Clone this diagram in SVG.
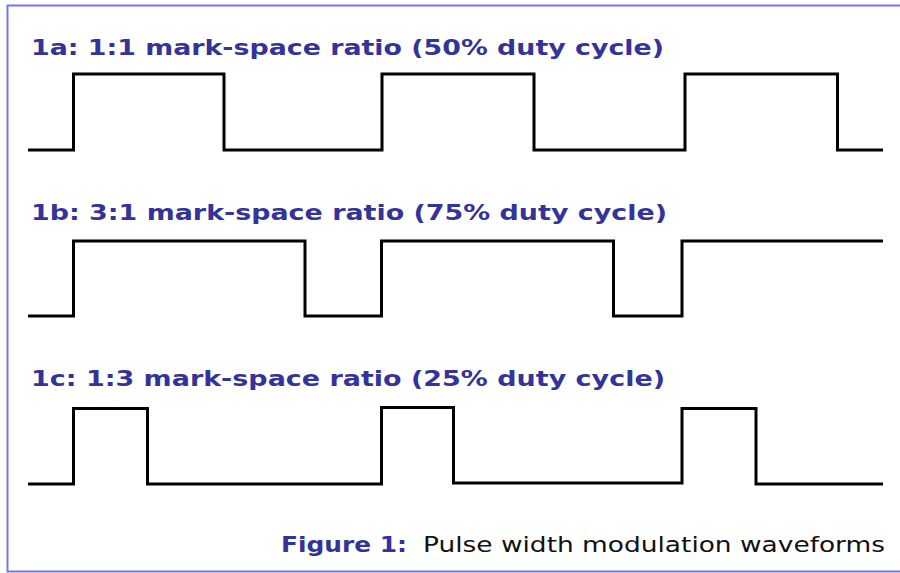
<svg xmlns="http://www.w3.org/2000/svg" width="900" height="573" viewBox="0 0 900 573">
<style>
.bg{fill:#ffffff}
.frame{fill:none;stroke:#7474ee;stroke-width:2}
.wave{fill:none;stroke:#000000;stroke-width:3;stroke-linejoin:miter;stroke-linecap:butt}
.title{font-family:"DejaVu Sans",Verdana,sans-serif;font-weight:bold;font-size:22px;fill:#333399}
.capb{font-family:"DejaVu Sans",Verdana,sans-serif;font-weight:bold;font-size:22px;fill:#333399}
.cap{font-family:"DejaVu Sans",Verdana,sans-serif;font-size:22px;fill:#111111}
</style>
<rect class="bg" x="0" y="0" width="900" height="573"/>
<path class="frame" d="M900,5.5 H7.5 V571.5 H900"/>
<g id="label-1a"><text class="title" x="31" y="55" textLength="633" lengthAdjust="spacingAndGlyphs">1a: 1:1 mark-space ratio (50% duty cycle)</text></g>
<g id="label-1b"><text class="title" x="31" y="220" textLength="636" lengthAdjust="spacingAndGlyphs">1b: 3:1 mark-space ratio (75% duty cycle)</text></g>
<g id="label-1c"><text class="title" x="31" y="386" textLength="634" lengthAdjust="spacingAndGlyphs">1c: 1:3 mark-space ratio (25% duty cycle)</text></g>
<g id="waveforms">
<path id="wave-1a" class="wave" d="M28,150 H73.5 V74 H224 V150 H382 V74 H534 V150 H685 V74 H837.5 V150 H883"/>
<path id="wave-1b" class="wave" d="M28,316 H73.5 V241 H305 V316 H381.5 V241 H613.5 V316 H682 V241 H883"/>
<path id="wave-1c" class="wave" d="M28,484 H73.5 V408.5 H147.5 V484 H381.5 V407.5 H453.5 V483 H682 V408.5 H756 V484 H883"/>
</g>
<g id="caption">
<text class="capb" x="281" y="552" textLength="126" lengthAdjust="spacingAndGlyphs">Figure 1:</text>
<text class="cap" x="423" y="552" textLength="462" lengthAdjust="spacingAndGlyphs">Pulse width modulation waveforms</text>
</g>
</svg>
